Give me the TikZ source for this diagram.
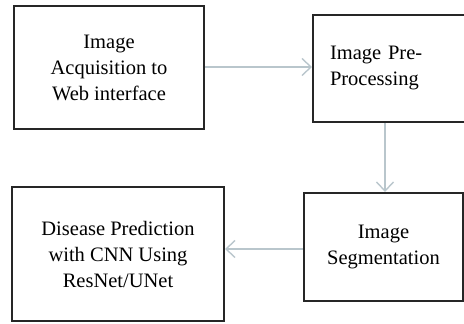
\documentclass[tikz,border=0pt]{standalone}
\usepackage{fontspec}
\setmainfont{Liberation Serif}
\usetikzlibrary{arrows.meta}

\tikzset{
  stage/.style={draw=black!85, line width=2pt, rectangle, align=center, font=\fontsize{20.5}{26}\selectfont},
  flow/.style={draw=gray!40!cyan!30!gray!55, line width=1.6pt, -{Straight Barb[length=9pt, width=17pt, line width=1.4pt]}}
}

\begin{document}
\begin{tikzpicture}[x=1pt, y=1pt]
    \useasboundingbox (0,0) rectangle (464,324);
    \node [stage, minimum height = 123pt, minimum width = 190pt] (acquire) at (109,256.5) {Image\\Acquisition to\\Web interface};
    \node [stage, minimum height = 107pt, minimum width = 167pt, text width = 133pt, align=left] (preproc) at (396.5,255.5) {Image Pre-\\Processing};
    \node [stage, minimum height = 134pt, minimum width = 212pt] (predict) at (118,70) {Disease Prediction\\with CNN Using\\ResNet/UNet};
    \node [stage, minimum height = 108pt, minimum width = 159pt] (segment) at (383.5,77) {Image\\Segmentation};

    \draw [flow] (acquire.east |- 0,257) -- (preproc.west |- 0,257);
    \draw [flow] (preproc.south -| 385,0) -- (segment.north -| 385,0);
    \draw [flow] (segment.west |- 0,75) -- (predict.east |- 0,75);
  \end{tikzpicture}
\end{document}
